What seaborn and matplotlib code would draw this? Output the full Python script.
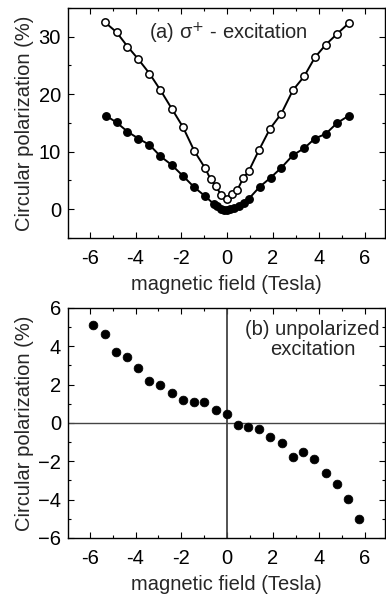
import matplotlib
matplotlib.use('Agg')
import matplotlib.pyplot as plt
import seaborn as sns
from matplotlib.ticker import MultipleLocator

sns.set_style('ticks')
plt.rcParams['font.family'] = ['Liberation Sans', 'DejaVu Sans']

# ---------------- data ----------------
# (a) sigma+ excitation, open circles
b_open = [-5.33, -4.83, -4.35, -3.88, -3.39, -2.91, -2.42, -1.93, -1.43, -0.97,
          -0.72, -0.48, -0.26, 0.0, 0.22, 0.45, 0.70, 0.94, 1.39, 1.87,
          2.36, 2.87, 3.36, 3.83, 4.30, 4.80, 5.32]
p_open = [32.5, 30.8, 28.3, 26.1, 23.6, 20.7, 17.5, 14.3, 10.1, 7.2,
          5.2, 4.0, 2.4, 1.7, 2.6, 3.4, 5.4, 6.6, 10.3, 14.0,
          16.6, 20.7, 23.1, 26.4, 28.6, 30.5, 32.4]

# (a) sigma+ excitation, filled circles
b_full = [-5.30, -4.83, -4.35, -3.88, -3.39, -2.91, -2.42, -1.93, -1.43, -0.97,
          -0.58, -0.43, -0.29, -0.14, 0.0, 0.14, 0.29, 0.50, 0.72, 0.94,
          1.42, 1.90, 2.36, 2.87, 3.36, 3.83, 4.30, 4.80, 5.32]
p_full = [16.3, 15.1, 13.5, 12.3, 11.2, 9.2, 7.7, 5.8, 3.8, 2.3,
          0.9, 0.5, 0.1, -0.1, -0.1, 0.0, 0.2, 0.5, 1.0, 1.8,
          3.9, 5.5, 7.2, 9.4, 10.6, 12.3, 13.1, 15.0, 16.3]

# (b) unpolarized excitation
b_unpol = [-5.84, -5.33, -4.86, -4.36, -3.88, -3.41, -2.91, -2.42, -1.94, -1.45,
           -0.99, -0.49, 0.0, 0.46, 0.93, 1.41, 1.88, 2.38, 2.86, 3.33,
           3.81, 4.32, 4.80, 5.29, 5.77]
p_unpol = [5.12, 4.66, 3.68, 3.46, 2.89, 2.18, 1.98, 1.55, 1.20, 1.11,
           1.09, 0.66, 0.45, -0.12, -0.23, -0.32, -0.73, -1.02, -1.75, -1.52,
           -1.89, -2.59, -3.20, -3.95, -5.02]

xticks = [-6, -4, -2, 0, 2, 4, 6]

FS = 14.5

fig = plt.figure(figsize=(3.86, 5.95), dpi=100)
ax1 = fig.add_axes([0.176, 0.600, 0.822, 0.3866])
ax2 = fig.add_axes([0.176, 0.0958, 0.822, 0.3866])

# ---- top panel ----
for b, p, face in [(b_open, p_open, 'white'), (b_full, p_full, 'black')]:
    sns.lineplot(x=b, y=p, sort=False, color='black', lw=1.4, ax=ax1)
    sns.scatterplot(x=b, y=p, color=face, edgecolor='black', linewidth=1.1,
                    s=28, zorder=3, ax=ax1)
ax1.set_xlim(-6.95, 6.9)
ax1.set_ylim(-5, 35)
ax1.yaxis.set_major_locator(MultipleLocator(10))
ax1.yaxis.set_minor_locator(MultipleLocator(5))
ax1.text(0.05, 30.6, '(a) σ$^{+}$ - excitation', fontsize=FS,
         ha='center', va='center')

# ---- bottom panel ----
ax2.axhline(0, color='#444444', lw=1.0, zorder=1)
ax2.axvline(0, color='#444444', lw=1.3, zorder=1)
sns.scatterplot(x=b_unpol, y=p_unpol, color='black', edgecolor='black',
                s=40, zorder=3, ax=ax2)
ax2.set_xlim(-6.95, 6.9)
ax2.set_ylim(-6, 6)
ax2.yaxis.set_major_locator(MultipleLocator(2))
ax2.yaxis.set_minor_locator(MultipleLocator(1))
ax2.text(3.72, 4.35, '(b) unpolarized\nexcitation', fontsize=FS,
         ha='center', va='center', linespacing=1.05)

for ax in (ax1, ax2):
    ax.set_xticks(xticks)
    ax.set_xticklabels([str(t) for t in xticks])
    ax.xaxis.set_minor_locator(MultipleLocator(1))
    ax.tick_params(which='both', direction='in', top=True, right=True,
                   labelsize=FS, width=0.8, colors='black')
    ax.tick_params(axis='x', pad=8)
    ax.tick_params(axis='y', pad=5)
    ax.tick_params(which='major', length=4)
    ax.tick_params(which='minor', length=2)
    for s in ax.spines.values():
        s.set_linewidth(1.0)
        s.set_color('black')
    ax.set_xlabel('magnetic field (Tesla)', fontsize=FS, labelpad=5)
    ax.set_ylabel('Circular polarization (%)', fontsize=FS, labelpad=3)

fig.savefig('out.png', dpi=100)
